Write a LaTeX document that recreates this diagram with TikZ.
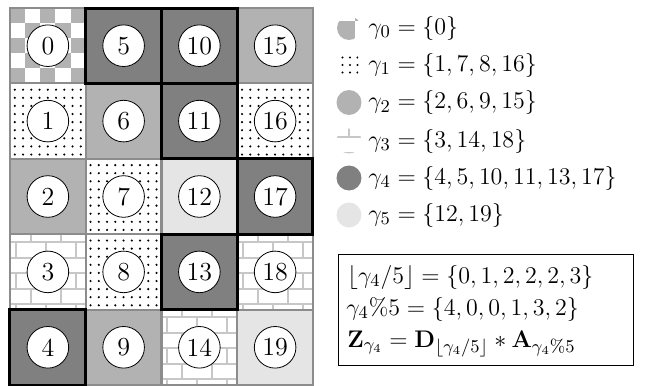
\documentclass[tikz,border=0pt]{standalone}
\definecolor{ggray}{gray}{0.7}
\definecolor{gdark}{gray}{0.5}
\definecolor{glight}{gray}{0.9}
\definecolor{gbrick}{gray}{0.78}
\definecolor{gline}{gray}{0.55}
\newcommand\cw{75.75}
\newcommand\ch{75.4}
\newcommand\ckcell[2]{%
  \foreach \i in {0,...,4}{\foreach \j in {0,...,4}{%
    \pgfmathtruncatemacro\ckpar{mod(\i+\j,2)}%
    \ifnum\ckpar=0 \fill[ggray] (#1+15.15*\i,#2+15.08*\j) rectangle ++(15.15,15.08);\fi}}}
\newcommand\dotcell[2]{%
  \foreach \i in {0,...,8}{\foreach \j in {0,...,8}{%
    \fill (#1+4.8+8.25*\i,#2+6.3+8.1*\j) circle[radius=1.2];}}}
\newcommand\brcell[2]{%
  \begin{scope}
  \clip (#1,#2) rectangle ++(\cw,\ch);
  \foreach \k in {0,...,5}{%
    \draw[brickline] (#1,#2-7.7+15.5*\k) -- ++(\cw,0);
    \pgfmathsetmacro\broff{15*mod(\k+1,2)}%
    \foreach \jj in {0,1,2}{\draw[brickline] (#1+6+\broff+30*\jj,#2-7.7+15.5*\k) -- ++(0,15.5);}}
  \end{scope}}
\begin{document}
\begin{tikzpicture}[x=0.5pt,y=-0.5pt,
  numc/.style={circle,draw,fill=white,minimum size=20.8pt,inner sep=0pt,line width=0.4pt,font=\fontsize{13}{15}\selectfont},
  legtext/.style={anchor=west,inner sep=0pt,font=\fontsize{13}{15}\selectfont},
  boxtext/.style={anchor=base west,inner sep=0pt,font=\fontsize{13}{15}\selectfont},
  cellborder/.style={draw=gline,line width=1pt},
  hiborder/.style={draw=black,line width=1.5pt},
  brickline/.style={draw=gbrick,line width=1pt},
  framebox/.style={draw,line width=0.5pt,anchor=north west,inner sep=0pt,minimum width=147.5pt,minimum height=55.5pt},
]
\useasboundingbox (0,0) rectangle (650,386);
% cell fills
\foreach \c/\r/\g in {0/0/0,0/1/1,0/2/2,0/3/3,0/4/4,
                      1/0/4,1/1/2,1/2/1,1/3/1,1/4/2,
                      2/0/4,2/1/4,2/2/5,2/3/4,2/4/3,
                      3/0/2,3/1/1,3/2/4,3/3/3,3/4/5}{
  \pgfmathsetmacro\xa{10+\cw*\c}\pgfmathsetmacro\ya{8+\ch*\r}
  \ifcase\g
    \ckcell{\xa}{\ya}
  \or \dotcell{\xa}{\ya}
  \or \fill[ggray] (\xa,\ya) rectangle ++(\cw,\ch);
  \or \brcell{\xa}{\ya}
  \or \fill[gdark] (\xa,\ya) rectangle ++(\cw,\ch);
  \or \fill[glight] (\xa,\ya) rectangle ++(\cw,\ch);
  \fi
}
% borders
\foreach \c in {0,...,3}{\foreach \r in {0,...,4}{
  \draw[cellborder] (10+\cw*\c,8+\ch*\r) rectangle ++(\cw,\ch);}}
\foreach \c/\r in {0/4,1/0,2/0,2/1,2/3,3/2}{
  \draw[hiborder] (10+\cw*\c,8+\ch*\r) rectangle ++(\cw,\ch);}
% numbered circles
\foreach \c in {0,...,3}{\foreach \r in {0,...,4}{
  \pgfmathtruncatemacro\id{5*\c+\r}
  \node[numc] (n\id) at (10+\cw*\c+\cw/2,8+\ch*\r+\ch/2) {\id};}}
% legend icons
\begin{scope}
  \clip (349,28) circle[radius=12];
  \fill[ggray] (336,21) rectangle (355,42);
  \fill[ggray] (355,10) rectangle (364,21);
\end{scope}
\begin{scope}
  \clip (349,65) circle[radius=12.5];
  \foreach \i in {-2,...,1}{\foreach \j in {-1,...,1}{
    \fill (350+7.5*\i,65+7.5*\j) circle[radius=1.1];}}
\end{scope}
\fill[ggray] (349,102.5) circle[radius=12.5];
\begin{scope}
  \clip (349,141) circle[radius=12.5];
  \draw[brickline] (336,137) -- (364,137);
  \draw[brickline] (336,152.5) -- (364,152.5);
  \draw[brickline] (349,121.5) -- (349,137);
\end{scope}
\fill[gdark] (349,178) circle[radius=12.5];
\fill[glight] (349,215) circle[radius=12.5];
% legend text
\node[legtext] (l0) at (368,28) {$\gamma_0=\{0\}$};
\node[legtext] (l1) at (368,65) {$\gamma_1=\{1,7,8,16\}$};
\node[legtext] (l2) at (368,102.5) {$\gamma_2=\{2,6,9,15\}$};
\node[legtext] (l3) at (368,141) {$\gamma_3=\{3,14,18\}$};
\node[legtext] (l4) at (368,178) {$\gamma_4=\{4,5,10,11,13,17\}$};
\node[legtext] (l5) at (368,215) {$\gamma_5=\{12,19\}$};
% formula box
\node[framebox] (box) at (338,254) {};
\node[boxtext] (b1) at (347,283) {$\lfloor\gamma_4/5\rfloor=\{0,1,2,2,2,3\}$};
\node[boxtext] (b2) at (346,315) {$\gamma_4\%5=\{4,0,0,1,3,2\}$};
\node[boxtext] (b3) at (347,347) {$\mathbf{Z}_{\gamma_4}=\mathbf{D}_{\lfloor\gamma_4/5\rfloor}*\mathbf{A}_{\gamma_4\%5}$};
\end{tikzpicture}
\end{document}
